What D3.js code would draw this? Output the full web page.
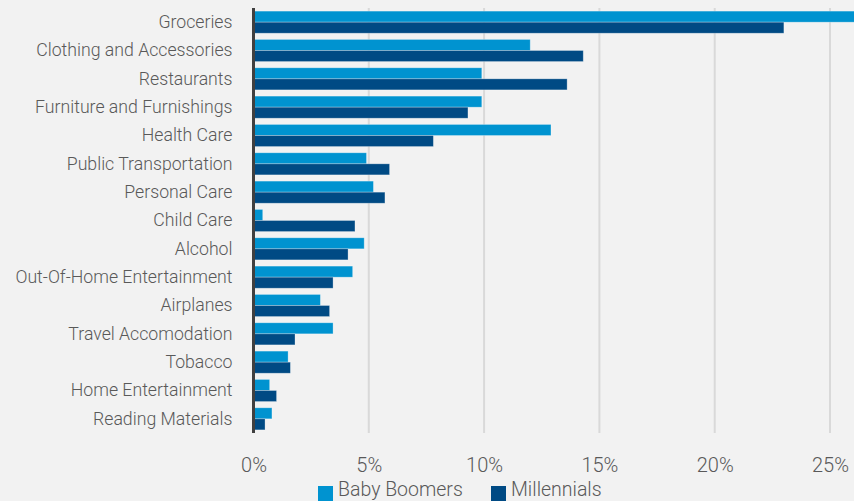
<!DOCTYPE html>
<html>
<head>
<meta charset="utf-8">
<script src="https://cdn.jsdelivr.net/npm/d3@7"></script>
<style>
html,body{margin:0;padding:0;background:#f2f2f2;}
svg{display:block;}
text{font-family:Roboto,"Open Sans",sans-serif;fill:#595959;}
</style>
</head>
<body>
<svg id="chart" width="854" height="501"></svg>
<script>
const categories = ["Groceries","Clothing and Accessories","Restaurants","Furniture and Furnishings","Health Care","Public Transportation","Personal Care","Child Care","Alcohol","Out-Of-Home Entertainment","Airplanes","Travel Accomodation","Tobacco","Home Entertainment","Reading Materials"];
const babyBoomers = [26.5,12.0,9.9,9.9,12.9,4.9,5.2,0.4,4.8,4.3,2.9,3.45,1.5,0.7,0.8];
const millennials = [23.0,14.3,13.6,9.3,7.8,5.9,5.7,4.4,4.1,3.45,3.3,1.8,1.6,1.0,0.5];
const seriesNames = ["Baby Boomers","Millennials"];
const tickValues = [0,5,10,15,20,25];
const tickLabels = ["0%","5%","10%","15%","20%","25%"];
const colors = ["#0093d0","#004a84"];

const svg = d3.select("#chart");
const x = d3.scaleLinear().domain([0,25]).range([253.5,830]);
const y = d3.scaleBand().domain(categories).range([8,433]).paddingInner(0.22).paddingOuter(0.11);
const ySub = d3.scaleBand().domain(seriesNames).range([0,y.bandwidth()]);

// gridlines
svg.append("g").selectAll("line").data(tickValues.slice(1)).join("line")
  .attr("x1",d=>x(d)).attr("x2",d=>x(d)).attr("y1",8).attr("y2",433)
  .attr("stroke","#d9d9d9").attr("stroke-width",2);

// bars
const data = categories.map((c,i)=>({c, vals:[babyBoomers[i],millennials[i]]}));
const g = svg.append("g").selectAll("g").data(data).join("g")
  .attr("transform",d=>`translate(0,${y(d.c)})`);
g.selectAll("rect").data(d=>d.vals.map((v,j)=>({v,s:seriesNames[j],j}))).join("rect")
  .attr("x",x(0)).attr("y",d=>ySub(d.s)).attr("height",ySub.bandwidth())
  .attr("width",d=>x(d.v)-x(0)).attr("fill",d=>colors[d.j])
  .attr("stroke","rgba(255,255,255,0.35)").attr("stroke-width",0.8);

// axis line
svg.append("line").attr("x1",x(0)).attr("x2",x(0)).attr("y1",8).attr("y2",433)
  .attr("stroke","#404040").attr("stroke-width",3);

// y labels
const yAxis = d3.axisLeft(y).tickSize(0).tickPadding(21);
const ya = svg.append("g").attr("transform",`translate(${x(0)},0)`).call(yAxis);
ya.select(".domain").remove();
ya.selectAll("text").style("font-size","17.7px").style("font-weight","300").attr("fill","#595959");

// x labels
const xAxis = d3.axisBottom(x).tickValues(tickValues).tickFormat((d,i)=>tickLabels[i]).tickSize(0).tickPadding(0);
const xa = svg.append("g").attr("transform","translate(0,457.5)").call(xAxis);
xa.select(".domain").remove();
xa.selectAll("text").style("font-size","20px").style("font-weight","300").attr("fill","#595959").attr("dy","0.71em");

// legend
const leg = svg.append("g");
const legX = [318,491];
seriesNames.forEach((s,i)=>{
  leg.append("rect").attr("x",legX[i]).attr("y",486).attr("width",15).attr("height",15).attr("fill",colors[i]);
  leg.append("text").attr("x",legX[i]+20).attr("y",496).text(s).style("font-size","19.5px").style("font-weight","300");
});
</script>
</body>
</html>
